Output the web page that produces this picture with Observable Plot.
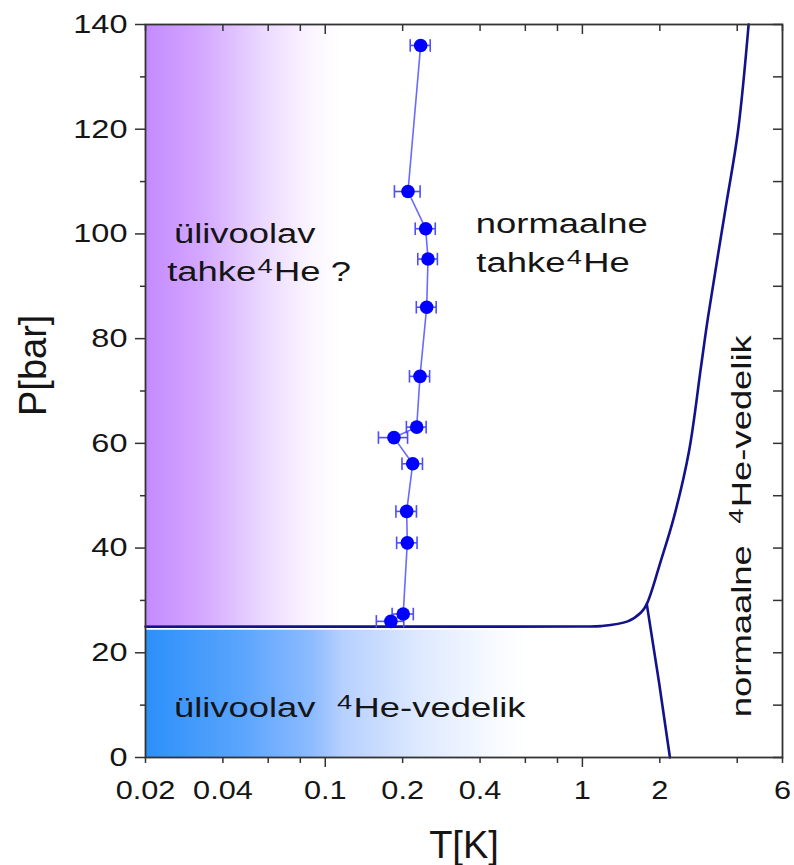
<!DOCTYPE html>
<html><head><meta charset="utf-8">
<script src="https://cdn.jsdelivr.net/npm/d3@7"></script>
<script src="https://cdn.jsdelivr.net/npm/@observablehq/plot@0.6"></script>
<style>body{margin:0;background:#fff}</style>
</head><body><div id="chart"></div>
<script>
// ---- data ----
const seriesT   = [0.180, 0.201, 0.2085, 0.2073, 0.2188, 0.185, 0.2268, 0.2336, 0.248, 0.251, 0.2458, 0.2098, 0.235];
const seriesP   = [26.0, 27.4, 41.0, 47.0, 56.1, 61.1, 63.1, 72.8, 86.0, 95.2, 101.0, 108.1, 136.0];
const seriesErr = [0.022, 0.019, 0.019, 0.019, 0.02, 0.024, 0.02, 0.021, 0.022, 0.022, 0.022, 0.024, 0.021];

const meltT = [0.02, 0.5, 1.0, 1.18, 1.5, 1.69, 1.78, 2.02, 2.27, 2.60, 2.89, 3.08, 3.61, 4.03, 4.43];
const meltP = [25.0, 25.0, 25.02, 25.1, 26.0, 27.7, 29.3, 37.6, 45.9, 58.6, 74.5, 84.1, 105.1, 119.7, 140];
const lambdaT = [1.78, 1.99, 2.19];
const lambdaP = [29.3, 14.1, 0];

const regionT1 = [0.02, 0.02];
const regionT2 = [0.115, 0.60];
const regionP1 = [25.2, 0];
const regionP2 = [140, 24.3];
const regionFill = ["url(#gPurple)", "url(#gBlue)"];

const labelTexts  = ["ülivoolav", "tahke⁴He\u00a0?", "normaalne", "tahke⁴He", "ülivoolav\u00a0\u00a0⁴He-vedelik", "normaalne\u00a0\u00a0⁴He-vedelik"];
const labelT      = [0.0258, 0.0243, 0.385, 0.387, 0.0258, 4.52];
const labelP      = [98.2, 91.1, 100.1, 92.7, 7.7, 7.7];
const labelRotate = [0, 0, 0, 0, 0, -90];

const xTickValues = [0.02, 0.04, 0.1, 0.2, 0.4, 1, 2, 6];
const xTickLabels = ["0.02", "0.04", "0.1", "0.2", "0.4", "1", "2", "6"];
const xMinorTicks = [0.02, 0.04, 0.06, 0.08, 0.2, 0.4, 0.6, 0.8, 2, 4, 6];
const xMajorTicks = [0.1, 1];
const yTickValues = [0, 20, 40, 60, 80, 100, 120, 140];
const yTickLabels = ["0", "20", "40", "60", "80", "100", "120", "140"];
const yMinorTicks = [10, 30, 50, 70, 90, 110, 130];
const yAllTicks   = [0, 10, 20, 30, 40, 50, 60, 70, 80, 90, 100, 110, 120, 130, 140];

// ---- tables ----
const points = seriesT.map((t, i) => ({T: t, P: seriesP[i], lo: t - seriesErr[i], hi: t + seriesErr[i]}));
const melt = meltT.map((t, i) => ({T: t, P: meltP[i]}));
const lambda = lambdaT.map((t, i) => ({T: t, P: lambdaP[i]}));
const regions = regionT1.map((t, i) => ({x1: t, x2: regionT2[i], y1: regionP1[i], y2: regionP2[i], fill: regionFill[i]}));
const labels = labelTexts.map((s, i) => ({text: s, T: labelT[i], P: labelP[i], rotate: labelRotate[i]}));
const capP = 1.2;
const caps = points.flatMap(d => [{T: d.lo, P: d.P}, {T: d.hi, P: d.P}]);

const axisColor = "#333";
const curveColor = "#12128c";
const font = "'Liberation Sans', Arial, sans-serif";

const chart = Plot.plot({
  width: 794, height: 865,
  marginLeft: 145, marginRight: 12, marginTop: 24, marginBottom: 108,
  style: {fontFamily: font, background: "white", color: "#151515"},
  x: {type: "log", domain: [0.02, 6], label: null},
  y: {domain: [0, 140], label: null},
  marks: [
    Plot.rect(regions, {x1: "x1", x2: "x2", y1: "y1", y2: "y2", fill: d => d.fill}),
    Plot.line(melt, {x: "T", y: "P", stroke: curveColor, strokeWidth: 2.6, curve: "catmull-rom"}),
    Plot.line(lambda, {x: "T", y: "P", stroke: curveColor, strokeWidth: 2.6}),
    Plot.line(points, {x: "T", y: "P", stroke: "#6a6aff", strokeWidth: 1.6}),
    Plot.link(points, {x1: "lo", x2: "hi", y1: "P", y2: "P", stroke: "#4d4dff", strokeWidth: 1.6}),
    Plot.link(caps, {x1: "T", x2: "T", y1: d => d.P - capP, y2: d => d.P + capP, stroke: "#4d4dff", strokeWidth: 1.6}),
    Plot.dot(points, {x: "T", y: "P", r: 6.8, fill: "#0000ff", stroke: "none"}),
    Plot.text(labels, {x: "T", y: "P", text: "text", rotate: "rotate", textAnchor: "start", lineAnchor: "bottom", fontSize: 28, fill: "#151515"}),
    Plot.frame({stroke: axisColor, strokeWidth: 1.8}),
    // left axis
    Plot.axisY(yTickValues, {anchor: "left", tickSize: 10, tickPadding: 8, text: yTickLabels, fontSize: 26, stroke: axisColor, strokeWidth: 1.5, label: null}),
    Plot.axisY(yMinorTicks, {anchor: "left", tickSize: 5, fill: "none", stroke: axisColor, strokeWidth: 1.5, label: null}),
    // right axis (inward)
    Plot.axisY(yAllTicks, {anchor: "right", tickSize: 10, insetRight: 10, fill: "none", stroke: axisColor, strokeWidth: 1.5, label: null}),
    // bottom axis
    Plot.axisX(xTickValues, {anchor: "bottom", tickSize: 0, tickPadding: 23, text: xTickLabels, fontSize: 26, label: null}),
    Plot.axisX(xMinorTicks, {anchor: "bottom", tickSize: 6, fill: "none", stroke: axisColor, strokeWidth: 1.5, label: null}),
    Plot.axisX(xMajorTicks, {anchor: "bottom", tickSize: 10, fill: "none", stroke: axisColor, strokeWidth: 1.5, label: null}),
    // top axis (inward)
    Plot.axisX(xMinorTicks, {anchor: "top", tickSize: 6, insetTop: 6, fill: "none", stroke: axisColor, strokeWidth: 1.5, label: null}),
    Plot.axisX(xMajorTicks, {anchor: "top", tickSize: 9, insetTop: 9, fill: "none", stroke: axisColor, strokeWidth: 1.5, label: null}),
    // axis titles
    Plot.text(["T[K]"], {frameAnchor: "bottom", dy: 100, lineAnchor: "bottom", fontSize: 38, fill: "#151515"}),
    Plot.text(["P[bar]"], {frameAnchor: "left", dx: -100, dy: 25, rotate: -90, lineAnchor: "bottom", fontSize: 38, fill: "#151515"})
  ]
});

// gradients for the shaded regions
d3.select(chart).insert("defs", ":first-child").html(`
  <linearGradient id="gPurple" x1="0" x2="1" y1="0" y2="0">
    <stop offset="0" stop-color="#c48aff"/>
    <stop offset="0.3" stop-color="#d4a9ff"/>
    <stop offset="0.6" stop-color="#ebd8ff"/>
    <stop offset="0.85" stop-color="#fbf5ff"/>
    <stop offset="1" stop-color="#ffffff"/>
  </linearGradient>
  <linearGradient id="gBlue" x1="0" x2="1" y1="0" y2="0">
    <stop offset="0" stop-color="#2b90fa"/>
    <stop offset="0.25" stop-color="#5aa4fd"/>
    <stop offset="0.44" stop-color="#8dbbff"/>
    <stop offset="0.52" stop-color="#b6d0ff"/>
    <stop offset="0.72" stop-color="#dde9ff"/>
    <stop offset="0.9" stop-color="#f5f9ff"/>
    <stop offset="1" stop-color="#ffffff"/>
  </linearGradient>`);

// wide lettering as in the original figure, and raised superscript 4
d3.select(chart).selectAll("text").each(function () {
  const txt = this.textContent;
  if (txt === "T[K]" || txt === "P[bar]") return;
  const parentLabel = this.parentNode.getAttribute("aria-label") || "";
  const sx = parentLabel.includes("y-axis") ? 1.25 : parentLabel.includes("x-axis") ? 1.18 : 1.3;
  const t = this.getAttribute("transform") || "";
  this.setAttribute("transform", (t + ` scale(${sx},1)`).trim());
  if (txt.includes("⁴")) {
    const parts = txt.split("⁴");
    const el = d3.select(this);
    el.text(null);
    el.append("tspan").text(parts[0]);
    el.append("tspan").attr("font-size", "75%").attr("dy", -8).attr("dx", 1).text("4");
    el.append("tspan").attr("dy", 8).attr("dx", 1).text(parts[1]);
  }
});

document.getElementById("chart").appendChild(chart);
</script>
</body></html>
